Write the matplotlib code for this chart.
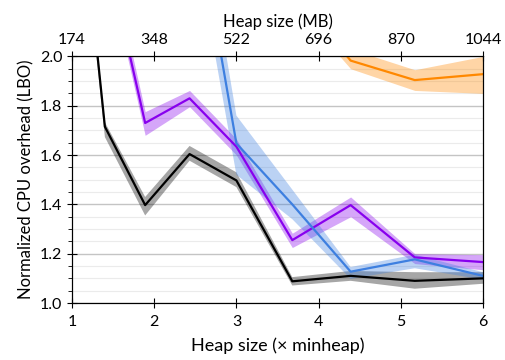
import numpy as np
import matplotlib.pyplot as plt
from matplotlib.ticker import MultipleLocator

plt.rcParams['font.family'] = ['Lato', 'DejaVu Sans']

MINHEAP_MB = 174

# heap size factors and normalized overhead per collector (mean, low, high)
x_black = [1.0, 1.4, 1.89, 2.43, 3.0, 3.68, 4.39, 5.17, 6.0]
y_black = [3.0, 1.715, 1.397, 1.604, 1.497, 1.088, 1.11, 1.09, 1.10]
lo_black = [2.95, 1.673, 1.355, 1.577, 1.47, 1.071, 1.09, 1.058, 1.078]
hi_black = [3.05, 1.733, 1.43, 1.637, 1.53, 1.105, 1.13, 1.125, 1.125]

x_purple = [1.4, 1.89, 2.43, 3.0, 3.68, 4.39, 5.17, 6.0]
y_purple = [2.45, 1.73, 1.83, 1.634, 1.255, 1.397, 1.185, 1.166]
lo_purple = [2.40, 1.68, 1.796, 1.60, 1.225, 1.35, 1.16, 1.135]
hi_purple = [2.50, 1.776, 1.862, 1.665, 1.283, 1.43, 1.20, 1.196]

x_blue = [2.43, 3.0, 3.68, 4.39, 5.17, 6.0]
y_blue = [2.74, 1.647, 1.40, 1.127, 1.177, 1.11]
lo_blue = [2.59, 1.52, 1.34, 1.098, 1.141, 1.095]
hi_blue = [2.89, 1.76, 1.46, 1.146, 1.196, 1.125]

x_orange = [3.68, 4.39, 5.17, 6.0]
y_orange = [2.27, 1.983, 1.904, 1.928]
lo_orange = [2.22, 1.95, 1.862, 1.85]
hi_orange = [2.32, 2.03, 1.946, 2.0]

series = [
    (x_black, y_black, lo_black, hi_black, '#000000'),
    (x_purple, y_purple, lo_purple, hi_purple, '#8800ee'),
    (x_blue, y_blue, lo_blue, hi_blue, '#3d7fe0'),
    (x_orange, y_orange, lo_orange, hi_orange, '#ff8800'),
]

fig = plt.figure(figsize=(5.05, 3.6), dpi=100)
ax = fig.add_axes([0.1426, 0.1583, 0.8138, 0.685])

for xs, ys, lo, hi, c in series:
    ax.fill_between(xs, lo, hi, color=c, alpha=0.35, linewidth=0)
    ax.plot(xs, ys, color=c, linewidth=1.6)

ax.set_xlim(1, 6)
ax.set_ylim(1.0, 2.0)
ax.yaxis.set_major_locator(MultipleLocator(0.2))
ax.yaxis.set_minor_locator(MultipleLocator(0.05))
ax.xaxis.set_major_locator(MultipleLocator(1))
ax.grid(which='major', axis='y', color='#c4c4c4', linewidth=1.0)
ax.grid(which='minor', axis='y', color='#ebebeb', linewidth=0.8)
ax.set_axisbelow(True)

ax.tick_params(which='major', direction='inout', length=7, labelsize=11.5)
ax.tick_params(which='minor', direction='out', length=3)
ax.tick_params(axis='x', which='both', top=False, pad=5)
ax.set_xlabel('Heap size (× minheap)', fontsize=13, labelpad=6)
ax.set_ylabel('Normalized CPU overhead (LBO)', fontsize=12)

# top axis in absolute heap size
top = ax.twiny()
top.set_xlim(ax.get_xlim())
ticks = [1, 2, 3, 4, 5, 6]
top.set_xticks(ticks)
top.set_xticklabels([str(MINHEAP_MB * t) for t in ticks])
top.tick_params(direction='inout', length=7, labelsize=11.5)
top.set_xlabel('Heap size (MB)', fontsize=12)

fig.savefig('out.png', dpi=100)
